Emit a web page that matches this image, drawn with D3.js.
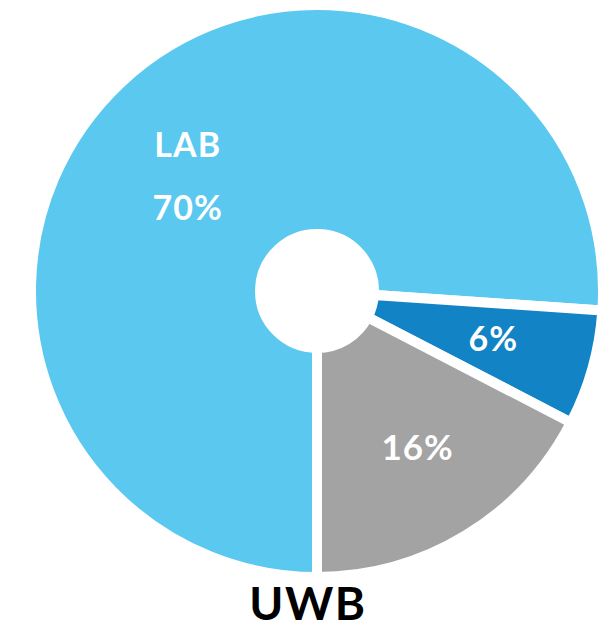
<!DOCTYPE html>
<html>
<head>
<meta charset="utf-8">
<script src="https://cdn.jsdelivr.net/npm/d3@7"></script>
<style>
  html, body { margin: 0; padding: 0; background: #fff; }
  svg { display: block; font-family: Lato, "Open Sans", sans-serif; }
</style>
</head>
<body>
<svg id="chart" width="605" height="630"></svg>
<script>
// === Data ===
const categories = ['LAB', '', ''];
const values = [70, 6, 16];
const sliceLabels = ['70%', '6%', '16%'];
const colors = ['#5BC8F0', '#1283C4', '#A3A3A3'];
const title = 'UWB';

// === Layout ===
const CX = 317, CY = 291;
const OUTER = 286, INNER = 57; // white 10px stroke eats 5px each side

const svg = d3.select('#chart');
const g = svg.append('g').attr('transform', `translate(${CX},${CY})`);

// start at 6 o'clock, go clockwise
const pie = d3.pie()
  .sort(null)
  .value(d => d)
  .startAngle(Math.PI)
  .endAngle(3 * Math.PI);

const arcs = pie(values);
const arc = d3.arc().innerRadius(INNER).outerRadius(OUTER);

g.selectAll('path')
  .data(arcs)
  .join('path')
  .attr('d', arc)
  .attr('fill', (d, i) => colors[i])
  .attr('stroke', '#fff')
  .attr('stroke-width', 10)
  .attr('stroke-linejoin', 'miter');

const labelStyle = sel => sel
  .attr('text-anchor', 'middle')
  .attr('fill', '#fff')
  .attr('font-weight', 700)
  .attr('letter-spacing', 1);

// LAB: name + value, upper-left of the ring
const labAngle = -0.774;   // radians from 12 o'clock
const labR = 185;
const lx = labR * Math.sin(labAngle), ly = -labR * Math.cos(labAngle);

g.append('text').call(labelStyle)
  .attr('x', lx).attr('y', ly - 2)
  .attr('font-size', 34)
  .text(categories[0]);
g.append('text').call(labelStyle)
  .attr('x', lx).attr('y', ly + 61)
  .attr('font-size', 34)
  .text(sliceLabels[0]);

// small slices: label at mid-angle
const radii = [0, 183, 186];
const sizes = [0, 34, 35];
const shiftX = [0, 0, 4];
[1, 2].forEach(i => {
  const a = (arcs[i].startAngle + arcs[i].endAngle) / 2;
  const x = radii[i] * Math.sin(a) + shiftX[i], y = -radii[i] * Math.cos(a);
  g.append('text').call(labelStyle)
    .attr('x', x).attr('y', y)
    .attr('dy', i === 1 ? '0.3em' : '0.3em')
    .attr('font-size', sizes[i])
    .text(sliceLabels[i]);
});

// title
svg.append('text')
  .attr('x', 308).attr('y', 620)
  .attr('text-anchor', 'middle')
  .attr('fill', '#000')
  .attr('font-weight', 700)
  .attr('font-size', 46)
  .attr('letter-spacing', 1.5)
  .text(title);
</script>
</body>
</html>
